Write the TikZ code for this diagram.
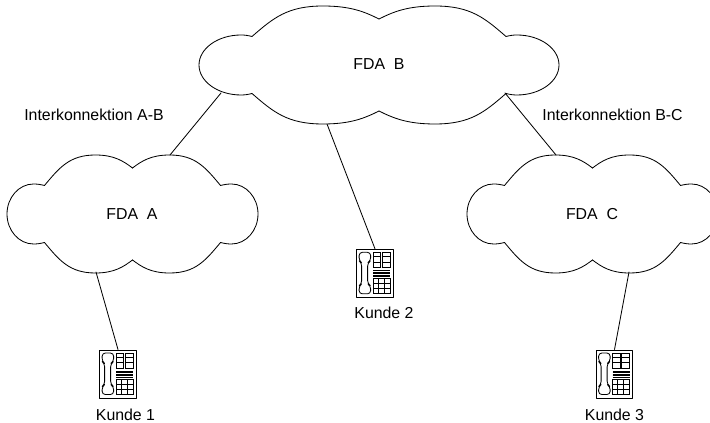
\documentclass[tikz,border=0pt]{standalone}
\usepackage{fontspec}
\setmainfont{Liberation Sans}
\tikzset{
  outline/.style={line width=0.62pt,line cap=round,line join=round,black},
  lbl/.style={inner sep=0pt,font=\fontsize{11.9pt}{14pt}\selectfont,text=black},
  phonebody/.style={draw,outline,line width=0.7pt,rectangle,minimum width=27.6pt,minimum height=36pt,inner sep=0pt},
  thin part/.style={line width=0.5pt,black}
}
\newcommand{\halfcloud}[3]{%
  \draw[outline] (0,-46) .. controls ({-0.25*#3},-53) and ({-0.5*#3},-59) .. (-#3,-59)
    .. controls ({-#3-0.5*(#2-#3)},-59) and ({-#2+0.3*(#2-#3)},-47) .. (-#2,-28.5)
    .. controls ({-#2-4},-29.5) and ({-#2-7},-30) .. ({-#2-11},-30)
    .. controls ({-#2-11-0.55*(#1-#2-11)},-30) and (-#1,-16.5) .. (-#1,0)
    .. controls (-#1,16.5) and ({-#2-11-0.55*(#1-#2-11)},30) .. ({-#2-11},30)
    .. controls ({-#2-7},30) and ({-#2-4},29.5) .. (-#2,28.5)
    .. controls ({-#2+0.3*(#2-#3)},47) and ({-#3-0.5*(#2-#3)},59) .. (-#3,59)
    .. controls ({-0.5*#3},59) and ({-0.25*#3},53) .. (0,46);}
\newcommand{\cloudat}[5]{% cx, cy, hw, jx, px
  \begin{scope}[shift={(#1,#2)}]
    \halfcloud{#3}{#4}{#5}
    \begin{scope}[xscale=-1]\halfcloud{#3}{#4}{#5}\end{scope}
  \end{scope}}
\newcommand{\phoneparts}[1]{%
  \begin{scope}[shift={(#1.north west)}]
    % handset
    \draw[outline,rounded corners=2.4pt] (3,3.5) -- (14.5,3.5) -- (14.5,12) -- (11.5,14) -- (11.5,35) -- (14.5,37) -- (14.5,45) -- (3,45) -- (3,37) -- (5.5,35) -- (5.5,14) -- (3,12) -- cycle;
    % upper keys
    \draw[thin part] (17,3.5) rectangle (24.5,18.5) (26,3.5) rectangle (34,18.5);
    \draw[thin part] (17,8) -- (24.5,8) (17,13.3) -- (24.5,13.3) (26,8) -- (34,8) (26,13.3) -- (34,13.3);
    % display stripes
    \foreach \yy in {21.5,23.1,24.7,26.3,27.9} \draw[thin part] (17,\yy) -- (34,\yy);
    % keypad
    \draw[thin part] (17,30) rectangle (34,45);
    \draw[thin part] (22,30) -- (22,45) (28,30) -- (28,45) (17,35) -- (34,35) (17,40) -- (34,40);
  \end{scope}}
\begin{document}
\begin{tikzpicture}[x=0.75pt,y=-0.75pt]
  \useasboundingbox (0,0) rectangle (710,423);
  \clip (0,0) rectangle (710,423);
  \cloudat{379}{65}{180}{127}{56}
  \cloudat{132.5}{214}{125.5}{88}{37}
  \cloudat{592.5}{214}{125.5}{88}{37}
  \node[lbl] (fdaB) at (379,64) {FDA\ \ B};
  \node[lbl] (fdaA) at (132,214) {FDA\ \ A};
  \node[lbl] (fdaC) at (592,214) {FDA\ \ C};
  \node[lbl] (ikAB) at (94,115) {Interkonnektion A-B};
  \node[lbl] (ikBC) at (612.5,115) {Interkonnektion B-C};
  \node[phonebody] (phoneA) at (118,374) {};
  \node[phonebody] (phoneB) at (375,273.3) {};
  \node[phonebody] (phoneC) at (614.5,374) {};
  \phoneparts{phoneA}
  \phoneparts{phoneB}
  \phoneparts{phoneC}
  \node[lbl] (kunde1) at (125.5,415) {Kunde 1};
  \node[lbl] (kunde2) at (384,313) {Kunde 2};
  \node[lbl] (kunde3) at (614.5,414.5) {Kunde 3};
  \coordinate (bL) at (221,93);
  \coordinate (bM) at (327,124);
  \coordinate (bR) at (505,93);
  \coordinate (aT) at (170,155);
  \coordinate (cT) at (556,155);
  \coordinate (aB) at (96,272);
  \coordinate (cB) at (629,272);
  \draw[outline] (bL) -- (aT);
  \draw[outline] (bR) -- (cT);
  \draw[outline] (bM) -- (phoneB.north);
  \draw[outline] (aB) -- (phoneA.north);
  \draw[outline] (cB) -- (phoneC.north);
\end{tikzpicture}
\end{document}
